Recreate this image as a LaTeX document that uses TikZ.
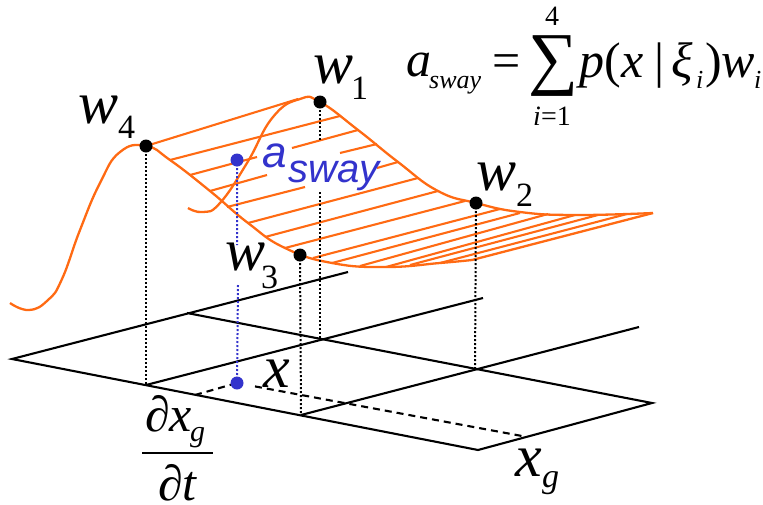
\documentclass[tikz,border=0pt]{standalone}
\usepackage{fontspec}
\setmainfont{Liberation Serif}
\setsansfont{Liberation Sans}
\usetikzlibrary{calc}
\definecolor{curveorange}{HTML}{FF6A13}
\definecolor{swayblue}{HTML}{3333CC}
\newcommand{\fsz}[1]{\fontsize{#1}{#1}\selectfont}

\begin{document}
\begin{tikzpicture}[
  x=1pt,y=-1pt,
  gridline/.style={line width=2.1pt,black},
  gridback/.style={line width=2.1pt,black,dash pattern=on 7pt off 5pt},
  drop/.style={line width=2pt,black,dash pattern=on 2pt off 2pt},
  dropblue/.style={line width=2pt,swayblue,dash pattern=on 2pt off 2pt},
  curve/.style={line width=2.3pt,curveorange,line join=round},
  hatch/.style={line width=2.1pt,curveorange},
  mathlabel/.style={inner sep=0pt,anchor=base west,font=\fsz{60}\itshape},
  sublabel/.style={inner sep=0pt,anchor=base west,font=\fsz{34}},
  eqlabel/.style={inner sep=0pt,anchor=base west,font=\fsz{50}}
]
  \useasboundingbox (0,0) rectangle (763,504);

  % Ground grid corners.
  \coordinate (L) at (12,359);
  \coordinate (B) at (478,450);
  \coordinate (R) at (652,403);
  \coordinate (LB) at (348,272);
  \coordinate (A1) at (146,385);
  \coordinate (A2) at (483,298);
  \coordinate (C1) at (301,415);
  \coordinate (C2) at (639,327);
  \coordinate (D1) at (187,313);
  \coordinate (E1) at (320,340);
  \coordinate (E2) at (475,369);

  % Points on the surface.
  \coordinate (W1) at (320,102);
  \coordinate (W2) at (476,203);
  \coordinate (W3) at (300,255);
  \coordinate (W4) at (146,146);
  \coordinate (P) at (237,160);
  \coordinate (Q) at (237,383);
  \coordinate (S1) at (195,395);
  \coordinate (S2) at (522,436);

  % Ground grid.
  \draw[gridline] (LB) -- (L) -- (B) -- (R) -- (D1);
  \draw[gridline] (A1) -- (A2);
  \draw[gridline] (C1) -- (C2);
  \draw[gridback] (S1) -- (Q);
  \draw[gridback] (255,386.4) -- (S2);

  % Hatching between the two curves, broken around the blue label.
  \draw[hatch] (W4) -- (298,99);
  \draw[hatch] (170,160) -- (340,116);
  \draw[hatch] (190,175) -- (257,157) (292,148) -- (358,130);
  \draw[hatch] (210,191) -- (267,175) (340,153) -- (377,144);
  \draw[hatch] (227,207) -- (305,187) (377,168) -- (398,162);
  \draw[hatch] (248,223) -- (418,178);
  \draw[hatch] (265,237) -- (438,191);
  \draw[hatch] (285,248) -- (465,201);
  \draw[hatch] (313,258) -- (500,209);
  \draw[hatch] (332,263) -- (520,213);
  \draw[hatch] (360,266) -- (548,214);
  \draw[hatch] (386,267) -- (575,215);
  \draw[hatch] (410,265) -- (598,215);
  \draw[hatch] (440,263) -- (627,214);

  % Back curve through w1 and w2.
  \draw[curve] plot[smooth,tension=0.8] coordinates {
    (188,208) (203,212) (220,203) (247,163) (273,117) (300,99)
    (320,102) (358,130) (398,162) (438,191) (476,203) (520,212)
    (575,215) (653,213) };

  % Front curve through w4 and w3.
  \draw[curve] plot[smooth,tension=0.8] coordinates {
    (10,303) (29,310) (48,300) (62,279) (80,230) (100,183) (120,152)
    (146,146) (170,160) (210,191) (248,223) (285,248) (332,263)
    (386,267) (440,263) (472,260) };
  \draw[curve] (472,260) -- (653,213);

  % Drop lines to the grid.
  \draw[drop] (W4) -- (A1);
  \draw[drop] (W1) -- (320,140) (320,192) -- (E1);
  \draw[drop] (W3) -- (C1);
  \draw[drop] (W2) -- (E2);
  \draw[dropblue] (P) -- (237,245) (238,285) -- (Q);

  % Interpolation points.
  \fill (W1) circle (6.5);
  \fill (W2) circle (6.5);
  \fill (W3) circle (6.5);
  \fill (W4) circle (6.5);
  \fill[swayblue] (P) circle (6.5);
  \fill[swayblue] (Q) circle (6.5);

  % Labels of the points.
  \node[mathlabel] (w4) at (78,123) {w};
  \node[sublabel] (w4sub) at (118,138) {4};
  \node[mathlabel] (w1) at (313,83) {w};
  \node[sublabel] (w1sub) at (351,99) {1};
  \node[mathlabel] (w2) at (476,190) {w};
  \node[sublabel] (w2sub) at (516,206) {2};
  \node[mathlabel] (w3) at (225,270) {w};
  \node[sublabel] (w3sub) at (261,288) {3};
  \node[mathlabel] (xq) at (263,387) {x};
  \node[mathlabel] (xg) at (515,476) {x};
  \node[sublabel,font=\fsz{34}\itshape] (xgsub) at (542,487) {g};
  \node[inner sep=0pt,anchor=base west,font=\fsz{44}\sffamily\itshape,text=swayblue]
    (asway) at (262,167) {a};
  \node[inner sep=0pt,anchor=base west,font=\fsz{40}\sffamily\itshape,text=swayblue]
    (aswaysub) at (288,182) {sway};

  % Fraction below the grid.
  \node[eqlabel,font=\fsz{50}\itshape] (dx) at (145,431) {∂x};
  \node[sublabel,font=\fsz{30}\itshape] (dxsub) at (190,441) {g};
  \draw[line width=2.1pt] (142,453) -- (213,453);
  \node[eqlabel,font=\fsz{50}\itshape] (dt) at (158,500) {∂t};

  % Equation in the corner.
  \node[eqlabel,font=\fsz{50}\itshape] (eqa) at (406,76) {a};
  \node[sublabel,font=\fsz{26}\itshape] (eqasub) at (429,88) {sway};
  \node[eqlabel] (eqeq) at (492,77) {=};
  \node[inner sep=0pt,font=\fsz{70}] (eqsum) at (553,66) {∑};
  \node[inner sep=0pt,font=\fsz{28}] (equp) at (552,16) {4};
  \node[inner sep=0pt,font=\fsz{28}] (eqlow) at (552,116) {\textit{i}=1};
  \node[eqlabel] (eqp) at (579,77) {\textit{p}(};
  \node[eqlabel,font=\fsz{50}\itshape] (eqx) at (621,77) {x};
  \node[eqlabel] (eqbar) at (654,77) {|};
  \node[eqlabel,font=\fsz{50}\itshape] (eqxi) at (671,77) {ξ};
  \node[sublabel,font=\fsz{26}\itshape] (eqisub) at (696,88) {i};
  \node[eqlabel] (eqw) at (705,77) {)\textit{w}};
  \node[sublabel,font=\fsz{26}\itshape] (eqwsub) at (754,88) {i};
\end{tikzpicture}
\end{document}
